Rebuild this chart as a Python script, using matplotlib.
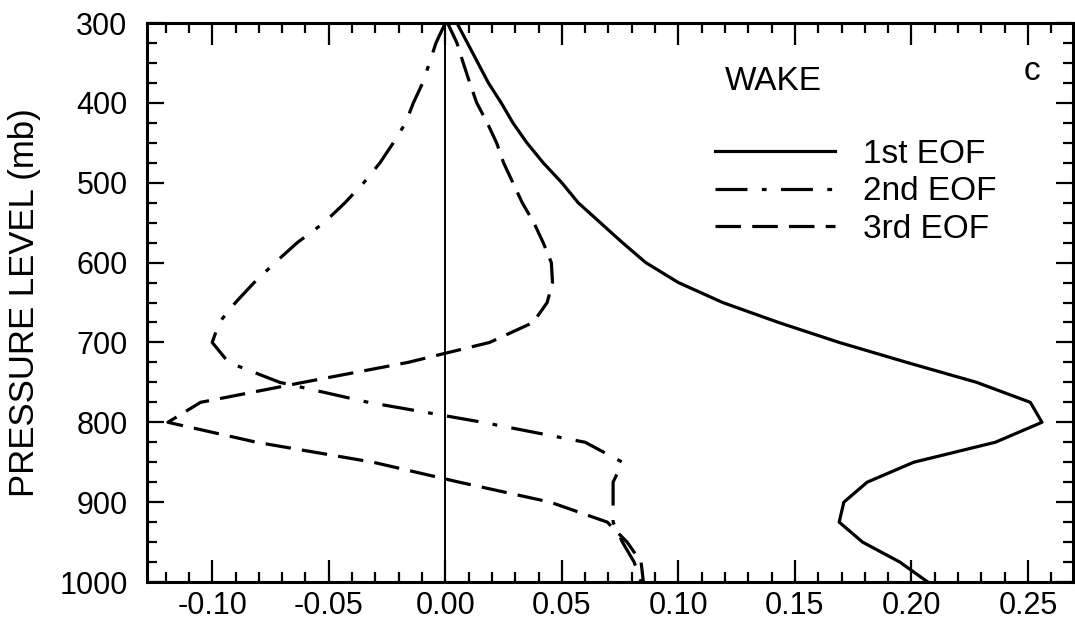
import matplotlib
matplotlib.use("Agg")
import matplotlib.pyplot as plt
from matplotlib.ticker import MultipleLocator, FormatStrFormatter

plt.rcParams['font.family'] = ['Liberation Sans', 'DejaVu Sans']
plt.rcParams['axes.unicode_minus'] = False

# niveis de pressao (mb)
pressure = [300, 325, 350, 375, 400, 425, 450, 475, 500, 525, 550, 575, 600, 625, 650,
            675, 700, 725, 750, 775, 800, 825, 850, 875, 900, 925, 950, 975, 1000]

eof1 = [0.005, 0.0095, 0.014, 0.0185, 0.024, 0.029, 0.035, 0.042, 0.050, 0.057, 0.0665,
        0.076, 0.086, 0.100, 0.119, 0.143, 0.169, 0.198, 0.228, 0.251, 0.256, 0.236,
        0.201, 0.181, 0.171, 0.169, 0.179, 0.195, 0.207]

eof2 = [0.0, -0.004, -0.0068, -0.0097, -0.0137, -0.017, -0.0223, -0.028, -0.035, -0.043,
        -0.052, -0.0635, -0.073, -0.082, -0.090, -0.097, -0.100, -0.093, -0.071, -0.033,
        0.016, 0.060, 0.076, 0.072, 0.072, 0.072, 0.076, 0.081, 0.084]

eof3 = [0.001, 0.005, 0.0077, 0.0105, 0.0135, 0.018, 0.022, 0.025, 0.029, 0.033, 0.038,
        0.042, 0.0455, 0.046, 0.0437, 0.0377, 0.019, -0.016, -0.061, -0.105, -0.119, -0.081,
        -0.031, 0.006, 0.045, 0.0695, 0.078, 0.084, 0.085]

labels = ["1st EOF", "2nd EOF", "3rd EOF"]

fig = plt.figure(figsize=(10.75, 6.22), dpi=100)
ax = fig.add_axes([0.1367, 0.0643, 0.8614, 0.8987])

lw = 2.3
ax.plot(eof1, pressure, color='black', lw=lw, linestyle='-', label=labels[0])
ax.plot(eof2, pressure, color='black', lw=lw, linestyle=(0, (10, 4.5, 1.5, 4.5)), label=labels[1])
ax.plot(eof3, pressure, color='black', lw=lw, linestyle=(0, (8, 3.5)), label=labels[2])
ax.axvline(0, color='black', lw=1.4)

ax.set_xlim(-0.128, 0.2693)
ax.set_ylim(1000, 300)

ax.xaxis.set_major_locator(MultipleLocator(0.05))
ax.xaxis.set_minor_locator(MultipleLocator(0.01))
ax.xaxis.set_major_formatter(FormatStrFormatter('%.2f'))
ax.yaxis.set_major_locator(MultipleLocator(100))
ax.yaxis.set_minor_locator(MultipleLocator(25))

ax.tick_params(axis='both', which='both', direction='in', top=True, right=True,
               width=1.6, labelsize=22)
ax.tick_params(axis='x', which='major', length=16, pad=6.5)
ax.tick_params(axis='y', which='major', length=12, pad=14)
ax.tick_params(axis='both', which='minor', length=7)
for s in ax.spines.values():
    s.set_linewidth(2.2)

ax.set_ylabel("PRESSURE LEVEL (mb)", fontsize=25)
ax.yaxis.set_label_coords(-0.114, 0.5)

ax.text(0.624, 0.880, "WAKE", transform=ax.transAxes, fontsize=24, va='baseline')
ax.text(0.947, 0.898, "c", transform=ax.transAxes, fontsize=24, va='baseline')

leg = ax.legend(loc='upper left', bbox_to_anchor=(0.613, 0.793), frameon=False,
                fontsize=24, handlelength=3.6, handletextpad=0.85, labelspacing=0.2,
                borderpad=0, borderaxespad=0)

fig.savefig("out.png", dpi=100)
